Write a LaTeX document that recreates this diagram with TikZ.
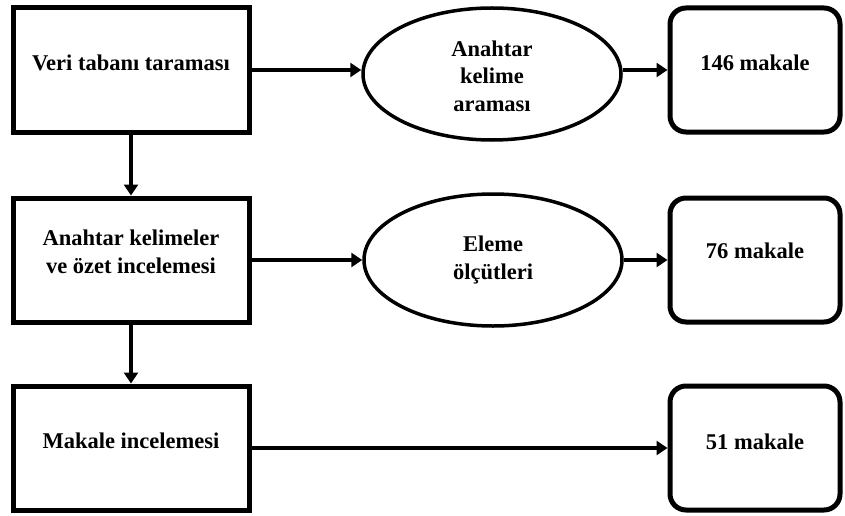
\documentclass[tikz,border=0pt]{standalone}
\usepackage{fontspec}
\setmainfont{Liberation Serif}
\usetikzlibrary{arrows.meta,shapes.geometric}
\begin{document}
\begin{tikzpicture}[x=1pt,y=-1pt,
  every node/.style={font=\bfseries\fontsize{22.5}{27.5}\selectfont, align=center, inner sep=0pt},
  sqbox/.style={draw, line width=5pt, minimum width=236pt, minimum height=124pt},
  ovalbox/.style={draw, ellipse, line width=3.5pt, minimum width=258pt, minimum height=132pt},
  rbox/.style={draw, rounded corners=16pt, line width=5pt, minimum width=170pt, minimum height=124pt},
  arr/.style={line width=4pt, -{Triangle[length=11pt,width=14pt]}}]
\useasboundingbox (0,0) rectangle (845,516);
\node[sqbox] (b1) at (131,70) {};
\node at (131,63) {Veri tabanı taraması};
\node[sqbox] (b2) at (131,260) {};
\node at (131,252) {Anahtar kelimeler\\ve özet incelemesi};
\node[sqbox] (b3) at (131,448) {};
\node at (131,441) {Makale incelemesi};
\node[ovalbox] (e1) at (492,74) {};
\node at (492,76) {Anahtar\\kelime\\araması};
\node[ovalbox] (e2) at (493,260) {};
\node at (493,260) {Eleme\\ölçütleri};
\node[rbox] (r1) at (755,70) {};
\node at (755,63) {146 makale};
\node[rbox] (r2) at (755,260) {};
\node at (755,251) {76 makale};
\node[rbox] (r3) at (755,448) {};
\node at (755,442) {51 makale};
\draw[arr] (b1.east) -- (e1.west |- b1.east);
\draw[arr] (e1.east |- b1.east) -- (r1.west);
\draw[arr] (b2.east) -- (e2.west);
\draw[arr] (e2.east) -- (r2.west);
\draw[arr] (b3.east) -- (r3.west);
\draw[arr] (b1.south) -- (b2.north);
\draw[arr] (b2.south) -- (b3.north);
\end{tikzpicture}
\end{document}
